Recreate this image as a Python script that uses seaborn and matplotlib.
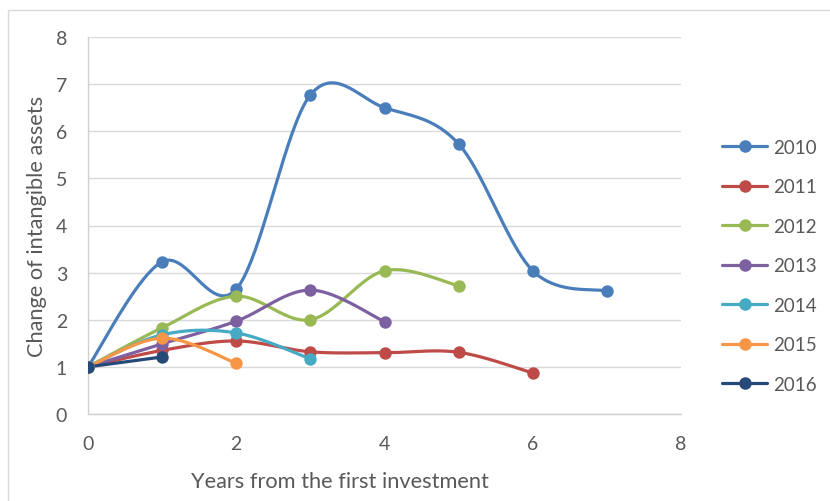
import numpy as np
import pandas as pd
import matplotlib
matplotlib.use("Agg")
import matplotlib.pyplot as plt
from matplotlib.lines import Line2D
from matplotlib.patches import Rectangle
import seaborn as sns

# Growth multiple of intangible assets by cohort (first investment year)
years_2010 = [1.00, 3.23, 2.65, 6.77, 6.50, 5.73, 3.04, 2.61]
years_2011 = [1.00, 1.35, 1.55, 1.32, 1.30, 1.31, 0.87]
years_2012 = [1.00, 1.83, 2.50, 2.00, 3.04, 2.72]
years_2013 = [1.00, 1.49, 1.97, 2.63, 1.96]
years_2014 = [1.00, 1.68, 1.72, 1.17]
years_2015 = [1.00, 1.61, 1.08]
years_2016 = [1.00, 1.21]

cohorts = ["2010", "2011", "2012", "2013", "2014", "2015", "2016"]
series = [years_2010, years_2011, years_2012, years_2013,
          years_2014, years_2015, years_2016]
colors = ["#4A7EBB", "#BE4B48", "#98B954", "#7D60A0",
          "#46AAC5", "#F79646", "#254A79"]

x_ticks = [0, 2, 4, 6, 8]
y_ticks = [0, 1, 2, 3, 4, 5, 6, 7, 8]


def smooth(xs, ys, n=40):
    """Catmull-Rom curve through the points (Excel-style smoothed line)."""
    p = np.column_stack([xs, ys]).astype(float)
    if len(p) < 3:
        return p[:, 0], p[:, 1]
    ext = np.vstack([p[0], p, p[-1]])
    out = []
    t = np.linspace(0, 1, n)[:, None]
    for i in range(1, len(ext) - 2):
        p0, p1, p2, p3 = ext[i - 1], ext[i], ext[i + 1], ext[i + 2]
        m1 = (p2 - p0) / 2
        m2 = (p3 - p1) / 2
        h00 = 2 * t**3 - 3 * t**2 + 1
        h10 = t**3 - 2 * t**2 + t
        h01 = -2 * t**3 + 3 * t**2
        h11 = t**3 - t**2
        seg = h00 * p1 + h10 * m1 + h01 * p2 + h11 * m2
        out.append(seg if i == 1 else seg[1:])
    c = np.vstack(out)
    return c[:, 0], c[:, 1]


sns.set_theme(style="white")
plt.rcParams["font.family"] = ["Lato", "DejaVu Sans"]

fig = plt.figure(figsize=(8.30, 5.02), dpi=100)
ax = fig.add_axes([88 / 830, 1 - 415 / 502, (681 - 88) / 830, (415 - 38) / 502])

# chart-area frame
fig.patches.append(Rectangle((8 / 830, -0.1), 1.2, 1 - 11 / 502 + 0.1,
                             transform=fig.transFigure, fill=False,
                             edgecolor="#D9D9D9", linewidth=1.0, zorder=0))

handles = []
for name, vals, col in zip(cohorts, series, colors):
    xs = np.arange(len(vals))
    cx, cy = smooth(xs, vals)
    curve = pd.DataFrame({"x": cx, "y": cy})
    pts = pd.DataFrame({"x": xs, "y": vals})
    sns.lineplot(data=curve, x="x", y="y", ax=ax, color=col, linewidth=2.3,
                 sort=False, estimator=None, solid_capstyle="round")
    sns.scatterplot(data=pts, x="x", y="y", ax=ax, color=col, s=80,
                    edgecolor=col, linewidth=0, zorder=3)
    handles.append(Line2D([], [], color=col, linewidth=2.3, marker="o",
                          markersize=9, markeredgewidth=0))

ax.set_xlim(0, 8)
ax.set_ylim(0, 8)
ax.set_xticks(x_ticks)
ax.set_yticks(y_ticks)
ax.yaxis.grid(True, color="#D9D9D9", linewidth=1.0)
ax.xaxis.grid(False)
ax.set_axisbelow(True)
for side in ["top", "right"]:
    ax.spines[side].set_visible(False)
for side in ["left", "bottom"]:
    ax.spines[side].set_color("#D0D0D0")
    ax.spines[side].set_linewidth(1.0)
ax.tick_params(axis="both", length=0, labelsize=14, colors="#595959")
ax.tick_params(axis="x", pad=15)
ax.tick_params(axis="y", pad=15)

ax.set_xlabel("Years from the first investment", fontsize=15.7,
              color="#595959")
ax.xaxis.set_label_coords((340 - 88) / 593, -(482 - 415) / 377)
ax.xaxis.label.set_verticalalignment("center")
ax.set_ylabel("Change of intangible assets", fontsize=15.7,
              color="#595959", labelpad=6)

leg = fig.legend(handles, cohorts, loc="upper left",
                 bbox_to_anchor=(722 / 830, 1 - 140 / 502), frameon=False,
                 fontsize=13.5, labelcolor="#595959", handlelength=2.4,
                 handletextpad=0.3, labelspacing=1.2, borderpad=0,
                 borderaxespad=0)

fig.savefig("out.png", dpi=100)
